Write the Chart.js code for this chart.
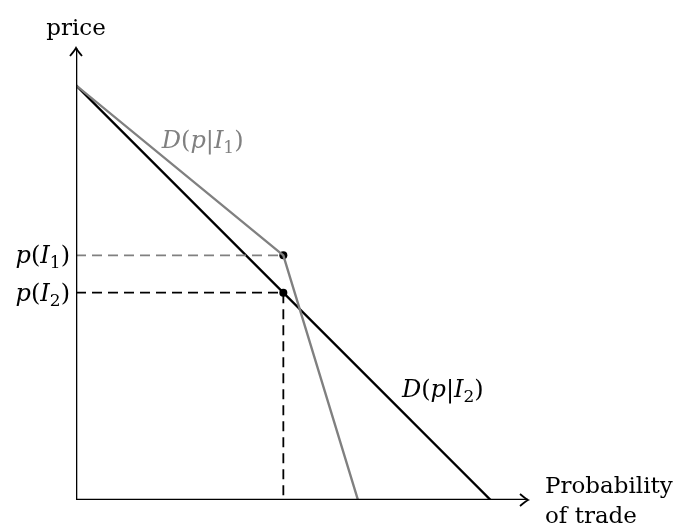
<!DOCTYPE html>
<html>
<head>
<meta charset="utf-8">
<script src="https://cdn.jsdelivr.net/npm/chart.js@4"></script>
<style>
  html, body { margin: 0; padding: 0; background: #fff; }
  #wrap { width: 678px; height: 531px; }
</style>
</head>
<body>
<div id="wrap"><canvas id="demandChart" width="678" height="531"></canvas></div>
<script>
// demand curves: price (y) against probability of trade (x)
const demandI2 = [{ x: 0, y: 1 }, { x: 1, y: 0 }];
const demandI1 = [{ x: 0, y: 1 }, { x: 0.5, y: 0.59 }, { x: 0.68, y: 0 }];
const priceI1 = 0.59;
const priceI2 = 0.5;
const tradeProb = 0.5;
const axisMax = 1.09;

const tickLabels = ['p(I_1)', 'p(I_2)'];
const tickValues = [priceI1, priceI2];
const curveLabels = [
    { text: 'D(p|I_1)', x: 0.207, y: 0.85, color: '#808080' },
    { text: 'D(p|I_2)', x: 0.786, y: 0.249, color: '#000' },
];
const axisTitleY = 'price';
const axisTitleX = ['Probability', 'of trade'];

const GRAY = '#808080';
const FONT_SIZE = 24;
const TITLE_SIZE = 23;
const SERIF = "'DejaVu Serif', 'Liberation Serif', serif";

// draw "D(p|I_1)" style text: letters italic, the rest upright, _x as subscript
function drawMath(ctx, str, x, y, align, color) {
    const parts = [];
    for (let i = 0; i < str.length; i++) {
        const ch = str[i];
        if (ch === '_') {
            parts.push({ t: str[i + 1], sub: true });
            i++;
        } else {
            parts.push({ t: ch, italic: /[A-Za-z]/.test(ch) });
        }
    }
    const fontFor = p => {
        if (p.sub) return `${Math.round(FONT_SIZE * 0.7)}px ${SERIF}`;
        return `${p.italic ? 'italic ' : ''}${FONT_SIZE}px ${SERIF}`;
    };
    let width = 0;
    parts.forEach(p => { ctx.font = fontFor(p); p.w = ctx.measureText(p.t).width; width += p.w; });
    let cx = align === 'right' ? x - width : x;
    ctx.fillStyle = color;
    ctx.textAlign = 'left';
    ctx.textBaseline = 'alphabetic';
    parts.forEach(p => {
        ctx.font = fontFor(p);
        ctx.fillText(p.t, cx, p.sub ? y + 5 : y);
        cx += p.w;
    });
}

function arrowHead(ctx, x, y, dir) {
    // dir: 'up' or 'right'
    ctx.save();
    ctx.translate(x, y);
    if (dir === 'up') ctx.rotate(-Math.PI / 2);
    ctx.strokeStyle = '#000';
    ctx.lineWidth = 1.8;
    ctx.beginPath();
    ctx.moveTo(-8, -6);
    ctx.quadraticCurveTo(-2, -1, 0, 0);
    ctx.quadraticCurveTo(-2, 1, -8, 6);
    ctx.stroke();
    ctx.restore();
}

const annotations = {
    id: 'annotations',
    afterDatasetsDraw(chart) {
        const { ctx, scales } = chart;
        const xs = scales.x, ys = scales.y;
        ctx.save();
        arrowHead(ctx, xs.getPixelForValue(0), ys.getPixelForValue(axisMax), 'up');
        arrowHead(ctx, xs.getPixelForValue(axisMax), ys.getPixelForValue(0), 'right');

        tickLabels.forEach((t, i) => {
            drawMath(ctx, t, xs.getPixelForValue(0) - 6, ys.getPixelForValue(tickValues[i]) + 8, 'right', '#000');
        });
        curveLabels.forEach(l => {
            drawMath(ctx, l.text, xs.getPixelForValue(l.x), ys.getPixelForValue(l.y), 'left', l.color);
        });

        ctx.fillStyle = '#000';
        ctx.font = `${TITLE_SIZE}px ${SERIF}`;
        ctx.textAlign = 'center';
        ctx.textBaseline = 'alphabetic';
        ctx.fillText(axisTitleY, xs.getPixelForValue(0), 35);
        ctx.textAlign = 'left';
        const tx = xs.getPixelForValue(axisMax) + 17;
        const by = ys.getPixelForValue(0);
        ctx.fillText(axisTitleX[0], tx, by - 7);
        ctx.fillText(axisTitleX[1], tx, by + 23);
        ctx.restore();
    }
};

const ctx = document.getElementById('demandChart').getContext('2d');
new Chart(ctx, {
    type: 'scatter',
    data: {
        datasets: [
            {
                // axes
                data: [{ x: 0, y: axisMax }, { x: 0, y: 0 }, { x: axisMax, y: 0 }],
                showLine: true, borderColor: '#000', borderWidth: 2.6, pointRadius: 0,
            },
            {
                data: [{ x: 0, y: priceI1 }, { x: tradeProb, y: priceI1 }],
                showLine: true, borderColor: GRAY, borderWidth: 1.8, borderDash: [10, 6], pointRadius: 0,
            },
            {
                data: [{ x: 0, y: priceI2 }, { x: tradeProb, y: priceI2 }, { x: tradeProb, y: 0 }],
                showLine: true, borderColor: '#000', borderWidth: 1.8, borderDash: [10, 6], pointRadius: 0,
            },
            {
                data: demandI1,
                showLine: true, borderColor: GRAY, borderWidth: 2.4, pointRadius: 0,
            },
            {
                data: demandI2,
                showLine: true, borderColor: '#000', borderWidth: 2.4, pointRadius: 0,
            },
            {
                data: [{ x: tradeProb, y: priceI1 }, { x: tradeProb, y: priceI2 }],
                showLine: false, pointRadius: 4, pointBackgroundColor: '#000', pointBorderWidth: 0,
            },
        ],
    },
    options: {
        responsive: false,
        animation: false,
        layout: { padding: { left: 76, top: 48, right: 150, bottom: 31 } },
        plugins: { legend: { display: false }, tooltip: { enabled: false } },
        scales: {
            x: { type: 'linear', min: 0, max: axisMax, display: false },
            y: { type: 'linear', min: 0, max: axisMax, display: false },
        },
    },
    plugins: [annotations],
});
</script>
</body>
</html>
